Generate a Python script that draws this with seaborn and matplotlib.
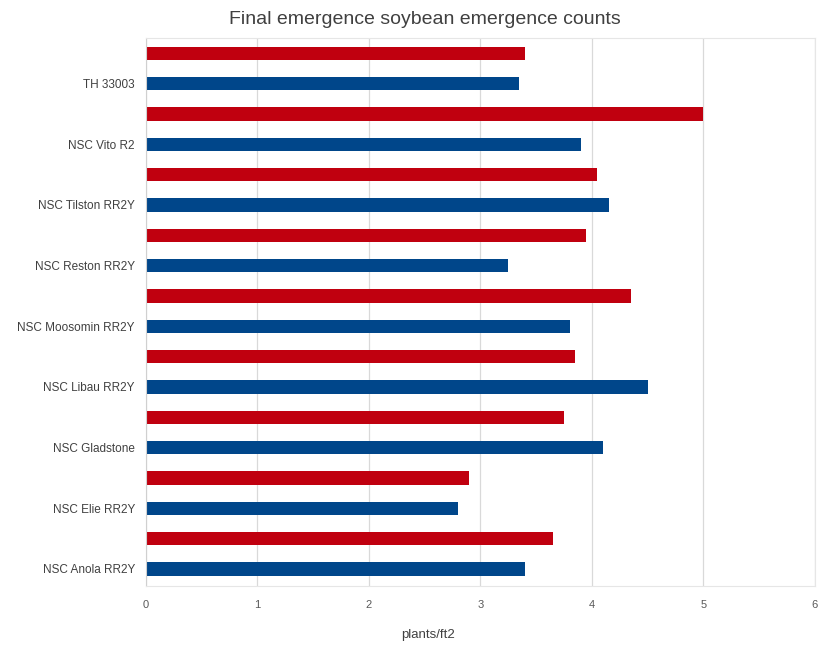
import numpy as np
import pandas as pd
import matplotlib
matplotlib.use("Agg")
import matplotlib.pyplot as plt
import seaborn as sns

## data, top to bottom as in the chart
varieties = ["TH 33003", "NSC Vito R2", "NSC Tilston RR2Y", "NSC Reston RR2Y",
             "NSC Moosomin RR2Y", "NSC Libau RR2Y", "NSC Gladstone",
             "NSC Elie RR2Y", "NSC Anola RR2Y"]
red_counts = [3.4, 5.0, 4.05, 3.95, 4.35, 3.85, 3.75, 2.9, 3.65]
blue_counts = [3.35, 3.9, 4.15, 3.25, 3.8, 4.5, 4.1, 2.8, 3.4]
series_names = ["Series 2", "Series 1"]
x_ticks = [0, 1, 2, 3, 4, 5, 6]

df = pd.DataFrame({
    "variety": varieties * 2,
    "count": red_counts + blue_counts,
    "series": [series_names[0]] * len(varieties) + [series_names[1]] * len(varieties),
})

sns.set_style("white")
plt.rcParams["font.family"] = ["Liberation Sans", "DejaVu Sans"]

fig = plt.figure(figsize=(8.18, 6.46), dpi=100)
ax = fig.add_axes([0.1785, 0.093, 0.8175, 0.848])

sns.barplot(data=df, x="count", y="variety", hue="series", order=varieties,
            hue_order=series_names, palette=["#C0000F", "#00468A"],
            saturation=1, orient="h", width=1.0, gap=0.56, dodge=True,
            legend=False, edgecolor="none", ax=ax)

ax.set_xlim(0, 6)
ax.set_ylim(8.53, -0.5)
ax.set_xticks(x_ticks)
ax.set_xticklabels([str(t) for t in x_ticks], fontsize=8, color="#595959")
# labels sit beside the lower (blue) bar of each pair
ax.set_yticks(np.arange(len(varieties)) + 0.25)
ax.set_yticklabels(varieties, fontsize=8.5, color="#404040")
ax.tick_params(axis="y", length=0, pad=8)
ax.tick_params(axis="x", length=0, pad=10)

ax.grid(axis="x", color="#D9D9D9", linewidth=0.9)
ax.set_axisbelow(True)
for side in ["top", "right", "bottom"]:
    ax.spines[side].set_color("#E6E6E6")
ax.spines["left"].set_color("#D0D0D0")

ax.set_ylabel("")
ax.set_xlabel("")
fig.text(0.523, 0.008, "plants/ft2", fontsize=9.5, color="#404040",
         ha="center", va="bottom")
fig.text(0.52, 0.97, "Final emergence soybean emergence counts", fontsize=14,
         color="#404040", ha="center", va="center")

fig.savefig("out.png", dpi=100)
